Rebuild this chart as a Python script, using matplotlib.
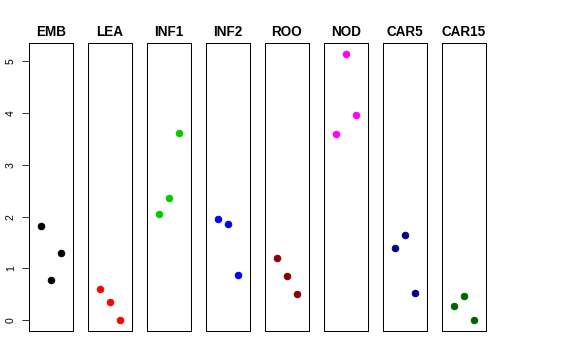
import matplotlib
matplotlib.use("Agg")
import matplotlib.pyplot as plt

tissues = ["EMB", "LEA", "INF1", "INF2", "ROO", "NOD", "CAR5", "CAR15"]
colors = ["#000000", "#FF0000", "#00CD00", "#0000FF", "#8B0000", "#FF00FF", "#000080", "#006400"]
emb = [1.81, 0.77, 1.29]
lea = [0.60, 0.35, 0.00]
inf1 = [2.05, 2.36, 3.61]
inf2 = [1.95, 1.85, 0.87]
roo = [1.20, 0.86, 0.50]
nod = [3.60, 5.14, 3.96]
car5 = [1.40, 1.65, 0.52]
car15 = [0.27, 0.46, 0.00]
values = [emb, lea, inf1, inf2, roo, nod, car5, car15]
xpos = [1, 2, 3]
yticks = [0, 1, 2, 3, 4, 5]

plt.rcParams['font.family'] = ['Liberation Sans', 'DejaVu Sans']
W, H = 576, 360
fig = plt.figure(figsize=(W / 72, H / 72), dpi=72)

allv = [v for s in values for v in s]
ymin, ymax = min(allv), max(allv)
pad = (ymax - ymin) * 0.04
left0, step, pw = 29, 59, 44
top, bottom = 43, 331
for i, (name, col, vals) in enumerate(zip(tissues, colors, values)):
    ax = fig.add_axes([(left0 + i * step) / W, (H - bottom) / H, pw / W, (bottom - top) / H])
    ax.plot(xpos, vals, 'o', color=col, ms=6.5, mec=col)
    ax.set_xlim(-0.16, 4.16)
    ax.set_ylim(ymin - pad, ymax + pad)
    ax.set_xticks([])
    for s in ax.spines.values():
        s.set_linewidth(1.0)
        s.set_color('black')
    ax.set_title(name, fontsize=13.5, fontweight='bold', pad=7)
    if i == 0:
        ax.set_yticks(yticks)
        ax.set_yticklabels([str(t) for t in yticks], rotation=90, va='center', fontsize=10.5)
        ax.tick_params(axis='y', length=7, width=1.0, color='#333333', pad=6, labelcolor='black')
    else:
        ax.set_yticks([])

fig.savefig("out.png", dpi=72)
